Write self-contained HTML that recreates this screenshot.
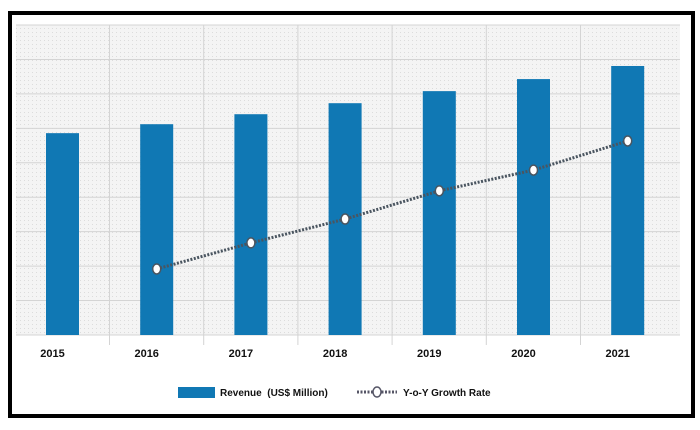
<!DOCTYPE html>
<html><head><meta charset="utf-8"><style>
body{margin:0;background:#fff;}
svg{display:block;font-family:"Liberation Sans",Arial,sans-serif;}
</style></head><body>
<svg id="c" width="700" height="430">
<defs><pattern id="dots" width="4" height="4" patternUnits="userSpaceOnUse"><rect width="4" height="4" fill="#f4f4f4"/><rect width="1" height="1" fill="#dcdcdc"/></pattern></defs>
<rect x="10" y="13" width="683" height="403" fill="#fff" stroke="#000" stroke-width="4"/>
<rect x="16" y="25" width="664" height="310" fill="url(#dots)"/>
<g id="grid"></g><g id="bars"></g><g id="line"></g><g id="xl"></g>
<g>
<rect x="178" y="387" width="37" height="11" fill="#1078b4"/>
<text x="220" y="396" font-size="10" font-weight="bold" fill="#111" xml:space="preserve">Revenue  (US$ Million)</text>
<line x1="357" y1="392" x2="397" y2="392" stroke="#556" stroke-width="3" stroke-dasharray="2,1.5"/>
<ellipse cx="377" cy="392" rx="4" ry="5" fill="#fff" stroke="#556" stroke-width="1.5"/>
<text x="403" y="396" font-size="10" font-weight="bold" fill="#111">Y-o-Y Growth Rate</text>
</g>
</svg>
<script>
const categories=["2015","2016","2017","2018","2019","2020","2021"];
const revenue=[58.6,61.2,64.1,67.3,70.8,74.3,78.1];
const growthYears=["2016","2017","2018","2019","2020","2021"];
const growth=[2.13,2.97,3.74,4.65,5.32,6.26];
const NS="http://www.w3.org/2000/svg";
const y0=335,y1=25,revMax=90,gMax=10;
const xc=i=>62.5+i*94.2;
const yRev=v=>y0-(v/revMax)*(y0-y1);
const yG=v=>y0-(v/gMax)*(y0-y1);
function mk(t,a,p){const e=document.createElementNS(NS,t);for(const k in a)e.setAttribute(k,a[k]);p.appendChild(e);return e;}
const grid=document.getElementById('grid');
for(let i=0;i<=9;i++){const y=y1+i*(y0-y1)/9;const l=mk('line',{x1:16,x2:680,y1:y,y2:y,stroke:'#d4d4d4','stroke-width':1},grid);

}
for(let i=0;i<categories.length-1;i++){const x=xc(i)+47;const l=mk('line',{x1:x,x2:x,y1:y1,y2:y0+10,stroke:'#d4d4d4','stroke-width':1},grid);

}
const bars=document.getElementById('bars'),xl=document.getElementById('xl');
categories.forEach((c,i)=>{const y=yRev(revenue[i]);
const r=mk('rect',{x:xc(i)-16.5,y:y,width:33,height:y0-y,fill:'#1078b4'},bars);


const t=mk('text',{x:xc(i)-10,y:357,'font-size':11,'font-weight':'bold','text-anchor':'middle',fill:'#111'},xl);t.textContent=c;

});
const lg=document.getElementById('line');
const pts=growthYears.map((c,i)=>[xc(categories.indexOf(c)),yG(growth[i])]);
const pl=mk('polyline',{points:pts.map(p=>p.join(',')).join(' '),fill:'none',stroke:'#4a5560','stroke-width':3,'stroke-dasharray':'2,1.5'},lg);


pts.forEach((p,i)=>{const e=mk('ellipse',{cx:p[0],cy:p[1],rx:4,ry:5,fill:'#fff',stroke:'#4a5560','stroke-width':1.5},lg);

});
</script>
</body></html>
